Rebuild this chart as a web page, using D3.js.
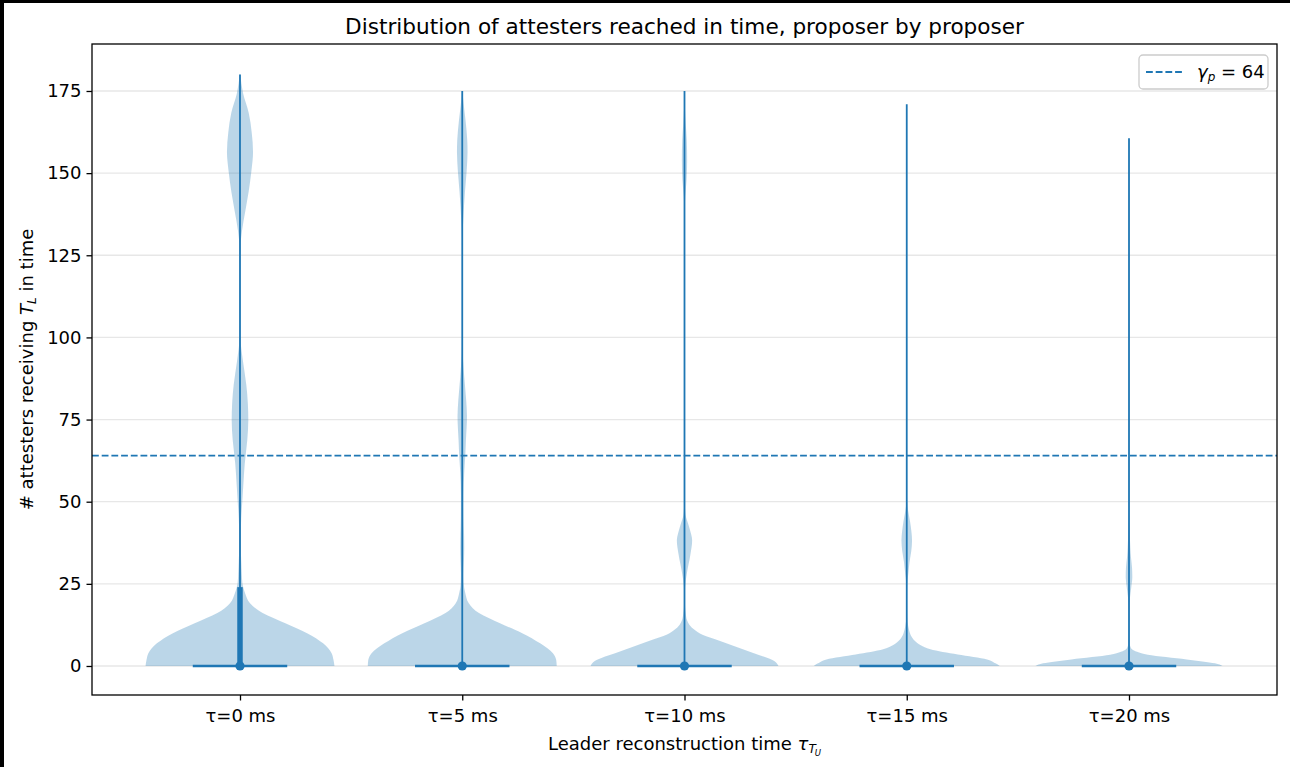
<!DOCTYPE html>
<html>
<head>
<meta charset="utf-8">
<script src="https://cdn.jsdelivr.net/npm/d3@7"></script>
<style>
  html, body { margin: 0; padding: 0; background: #ffffff; }
  svg { display: block; font-family: "DejaVu Sans", sans-serif; }
</style>
</head>
<body>
<svg id="chart" width="1290" height="767"></svg>
<script>
// ---------------- data ----------------
const categories = ["τ=0 ms", "τ=5 ms", "τ=10 ms", "τ=15 ms", "τ=20 ms"];
const positions = [1, 2, 3, 4, 5];
const yTicks = [0, 25, 50, 75, 100, 125, 150, 175];
const threshold = 64;          // gamma_p
const minima  = [0, 0, 0, 0, 0];
const maxima  = [180, 175, 175, 171, 160.6];
const medians = [0, 0, 0, 0, 0];
const q1      = [0, 0, 0, 0, 0];
const q3      = [24, 0, 0, 0, 0];

// estimated kernel density profiles: [value, relative density in % of that violin's max]
const density0 = [[0,100],[1.8,99],[3.9,97],[6.9,88],[10,71],[13,48],[16.1,24],[19.1,10.6],[22.2,5.3],[25,2.6],[28,1.9],[32,1.3],[36,0.85],[40,0.85],[45,1.3],[50,2.4],[55,3.5],[61.5,5],[68.7,7.7],[74.7,8.8],[80,8.3],[85.5,6.7],[92.7,3.2],[100,0.4],[105,0.2],[115,0.16],[127.6,0.5],[132.4,2.1],[138.4,5.6],[144.4,9.2],[150.4,12],[156.4,13.8],[162.4,12.4],[168.4,9.2],[174.4,3.2],[180,0.3]];
const density1 = [[0,100],[1.8,99.5],[3.9,96],[6.9,82.5],[10,63.5],[13,40],[16.1,17.7],[19.1,6.9],[22.2,3.2],[25,1.6],[28,1.4],[32,1.8],[36,2.1],[40,1.9],[45,1.5],[52,1.4],[59,2.1],[64,3.2],[68.7,3.9],[76,5],[80.7,4.2],[88,2.1],[97.5,0.3],[110,0.16],[130,0.3],[136,1.1],[144.4,2.9],[150.4,4.6],[156.4,5.6],[160,5.3],[166,3.5],[172,1.1],[175,0.3]];
const density2 = [[0,99.5],[1.5,95],[4,72],[6,53],[8,34],[9.5,19],[11,10.6],[12.5,5.3],[14,2.6],[16,1.3],[18,0.6],[21,0.4],[24.3,0.7],[28,2.4],[34,6.3],[38.3,8.1],[40,7.1],[43,4.2],[46,1.1],[49,0.4],[52,0.2],[60,0.15],[138,0.15],[143,0.8],[148,2.2],[154,2.8],[160,2.4],[165,1.3],[170,0.4],[175,0.1]];
const density3 = [[0,98.5],[0.8,94],[2,85],[3.5,54],[5.1,25],[6.3,14.8],[7.5,9],[8.8,5.3],[10,3.4],[12,1.6],[15,0.5],[20,0.3],[25,0.5],[28,1.6],[31.6,2.9],[35,4.8],[38.2,5.6],[41,4.9],[44,3.5],[47,1.6],[50,0.4],[55,0.15],[171,0.1]];
const density4 = [[0,99],[0.8,91],[2,61],[3.4,20],[4.3,8.5],[5.1,3.2],[6,1.3],[7,0.6],[10,0.3],[15,0.3],[18,0.5],[21,1.1],[24,2.4],[27,3.5],[30,3.2],[33,2.1],[36,1.4],[40,0.85],[45,0.3],[50,0.15],[160.6,0.1]];
const densities = [density0, density1, density2, density3, density4];

// ---------------- drawing ----------------
(function draw() {
  const W = 1290, H = 767;
  const pL = 92, pR = 1277, pT = 44, pB = 695;
  const blue = "#1f77b4";
  const violinWidth = 0.85;
  const fs = 18, fsTitle = 21.6, fsSub = 12, fsSub2 = 8.5;

  const svg = d3.select("#chart");
  svg.append("rect").attr("width", W).attr("height", H).attr("fill", "#fff");

  const x = d3.scaleLinear().domain([1 - 0.6659, 5 + 0.6659]).range([pL, pR]);
  const y = d3.scaleLinear().domain([-8.83, 189.3]).range([pB, pT]);

  // gridlines
  svg.append("g").selectAll("line").data(yTicks).join("line")
    .attr("x1", pL).attr("x2", pR)
    .attr("y1", d => y(d)).attr("y2", d => y(d))
    .attr("stroke", "#b0b0b0").attr("stroke-opacity", 0.3).attr("stroke-width", 1.3);

  const plot = svg.append("g");

  // violin bodies
  densities.forEach((dens, i) => {
    const p = positions[i];
    const a = d3.area()
      .curve(d3.curveMonotoneY)
      .y(d => y(d[0]))
      .x0(d => x(p - d[1] / 100 * violinWidth / 2))
      .x1(d => x(p + d[1] / 100 * violinWidth / 2));
    plot.append("path").attr("d", a(dens))
      .attr("fill", blue).attr("fill-opacity", 0.3).attr("stroke", "none");
  });

  // extrema bars
  plot.selectAll(".bar").data(positions).join("line").attr("class", "bar")
    .attr("x1", d => x(d)).attr("x2", d => x(d))
    .attr("y1", (d, i) => y(minima[i])).attr("y2", (d, i) => y(maxima[i]))
    .attr("stroke", blue).attr("stroke-width", 1.8);

  // quartile bars
  plot.selectAll(".iqr").data(positions).join("line").attr("class", "iqr")
    .attr("x1", d => x(d)).attr("x2", d => x(d))
    .attr("y1", (d, i) => y(q1[i])).attr("y2", (d, i) => y(q3[i]))
    .attr("stroke", blue).attr("stroke-width", 5.5);

  // median lines
  plot.selectAll(".med").data(positions).join("line").attr("class", "med")
    .attr("x1", d => x(d - violinWidth / 4)).attr("x2", d => x(d + violinWidth / 4))
    .attr("y1", (d, i) => y(medians[i])).attr("y2", (d, i) => y(medians[i]))
    .attr("stroke", blue).attr("stroke-width", 2.4);

  // threshold dashed line
  svg.append("line")
    .attr("x1", pL).attr("x2", pR)
    .attr("y1", y(threshold)).attr("y2", y(threshold))
    .attr("stroke", blue).attr("stroke-width", 1.8)
    .attr("stroke-dasharray", "6.8,2.9");

  // median dots
  plot.selectAll(".dot").data(positions).join("circle").attr("class", "dot")
    .attr("cx", d => x(d)).attr("cy", (d, i) => y(medians[i]))
    .attr("r", 4.6).attr("fill", blue);

  // axes
  const yAxis = svg.append("g").attr("transform", `translate(${pL},0)`)
    .call(d3.axisLeft(y).tickValues(yTicks).tickSize(5.5).tickPadding(5));
  const xAxis = svg.append("g").attr("transform", `translate(0,${pB})`)
    .call(d3.axisBottom(x).tickValues(positions).tickFormat((d, i) => categories[i]).tickSize(5.5).tickPadding(9));
  [yAxis, xAxis].forEach(g => {
    g.select(".domain").remove();
    g.selectAll("line").attr("stroke", "#000").attr("stroke-width", 1.3);
    g.selectAll("text").attr("font-family", "DejaVu Sans").attr("font-size", fs).attr("fill", "#000");
  });

  // frame
  svg.append("rect").attr("x", pL).attr("y", pT)
    .attr("width", pR - pL).attr("height", pB - pT)
    .attr("fill", "none").attr("stroke", "#000").attr("stroke-width", 1.3);

  // title
  svg.append("text").attr("x", (pL + pR) / 2).attr("y", 34)
    .attr("text-anchor", "middle").attr("font-size", fsTitle).attr("fill", "#000")
    .text("Distribution of attesters reached in time, proposer by proposer");

  // x label
  const xl = svg.append("text").attr("x", (pL + pR) / 2).attr("y", 750)
    .attr("text-anchor", "middle").attr("font-size", fs).attr("fill", "#000");
  xl.append("tspan").text("Leader reconstruction time ");
  xl.append("tspan").attr("font-style", "italic").text("τ");
  xl.append("tspan").attr("font-style", "italic").attr("font-size", fsSub).attr("dy", 3).text("T");
  xl.append("tspan").attr("font-style", "italic").attr("font-size", fsSub2).attr("dx", -1).attr("dy", 2.5).text("U");

  // y label
  const yl = svg.append("text")
    .attr("transform", `translate(33,${(pT + pB) / 2}) rotate(-90)`)
    .attr("text-anchor", "middle").attr("font-size", fs).attr("fill", "#000");
  yl.append("tspan").text("# attesters receiving ");
  yl.append("tspan").attr("font-style", "italic").text("T");
  yl.append("tspan").attr("font-style", "italic").attr("font-size", fsSub).attr("dy", 3).text("L");
  yl.append("tspan").attr("dy", -3).text(" in time");

  // legend
  const lg = svg.append("g");
  lg.append("rect").attr("x", 1139).attr("y", 55).attr("width", 129).attr("height", 34).attr("rx", 4)
    .attr("fill", "#fff").attr("fill-opacity", 0.8).attr("stroke", "#cccccc").attr("stroke-width", 1.3);
  lg.append("line").attr("x1", 1146).attr("x2", 1183).attr("y1", 72).attr("y2", 72)
    .attr("stroke", blue).attr("stroke-width", 1.8).attr("stroke-dasharray", "6.8,2.9");
  const lt = lg.append("text").attr("x", 1197).attr("y", 78).attr("font-size", fs).attr("fill", "#000");
  lt.append("tspan").attr("font-style", "italic").text("γ");
  lt.append("tspan").attr("font-style", "italic").attr("font-size", fsSub).attr("dy", 3).text("p");
  lt.append("tspan").attr("dy", -3).text(" = " + threshold);

  // screenshot border strips
  svg.append("rect").attr("x", 0).attr("y", 0).attr("width", W).attr("height", 3).attr("fill", "#000");
  svg.append("rect").attr("x", 0).attr("y", 0).attr("width", 4).attr("height", H).attr("fill", "#000");
})();
</script>
</body>
</html>
